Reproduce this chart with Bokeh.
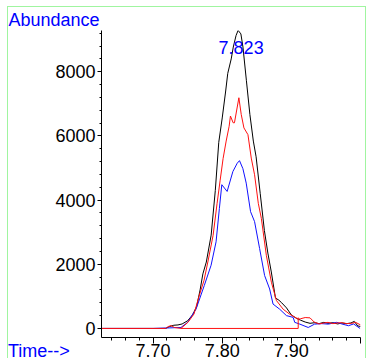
from bokeh.plotting import figure
from bokeh.models import FixedTicker, Label, Range1d, PrintfTickFormatter, Div
from bokeh.layouts import column
from bokeh.embed import file_html
from bokeh.resources import INLINE

# ---- data (retention time in min, abundance) ----
black_t = [7.6254, 7.700, 7.718, 7.724, 7.730, 7.736, 7.742, 7.750, 7.757, 7.763, 7.768,
           7.772, 7.777, 7.784, 7.790, 7.795, 7.800, 7.805, 7.808, 7.813, 7.816, 7.820,
           7.823, 7.827, 7.830, 7.835, 7.840, 7.845, 7.849, 7.855, 7.861, 7.866, 7.871,
           7.877, 7.882, 7.886, 7.893, 7.900, 7.907, 7.913, 7.920, 7.927, 7.934, 7.940,
           7.947, 7.953, 7.960, 7.967, 7.973, 7.980, 7.986, 7.991, 7.996, 8.000]
black_v = [0, 0, 0, 60, 100, 110, 140, 240, 420, 680, 1200,
           1700, 2070, 2910, 4300, 5800, 6560, 7400, 7950, 8400, 8770, 9130,
           9290, 9180, 8770, 7720, 6670, 5840, 5350, 4200, 3050, 2350, 1760,
           950, 880, 800, 640, 420, 320, 260, 200, 160, 180, 150,
           190, 160, 180, 140, 170, 150, 170, 220, 80, 60]

red_t = [7.6254, 7.700, 7.718, 7.722, 7.726, 7.731, 7.7403, 7.7504, 7.7592, 7.7664, 7.7737,
         7.7795, 7.7868, 7.7926, 7.7969, 7.8013, 7.8057, 7.8100, 7.8119, 7.8158, 7.8177,
         7.8241, 7.8275, 7.8314, 7.8372, 7.8420, 7.8468, 7.8522, 7.8566, 7.8638, 7.8711,
         7.8784, 7.8881, 7.8972, 7.9099, 7.913, 7.920, 7.927, 7.933, 7.940, 7.947, 7.953,
         7.960, 7.967, 7.973, 7.980, 7.987, 7.993, 8.000]
red_v = [0, 0, 0, 60, 90, 30, 0, 190, 450, 1000, 1500,
         2100, 2900, 3900, 4600, 5300, 5840, 6300, 6620, 6410, 6410,
         7190, 6670, 6250, 6040, 5310, 4790, 3900, 3430, 2280, 1440,
         870, 600, 450, 290, 300, 340, 330, 200, 140, 170, 190,
         150, 170, 180, 150, 160, 190, 110]

blue_t = [7.6254, 7.700, 7.7403, 7.7500, 7.7621, 7.7741, 7.7839, 7.7911, 7.7959, 7.7994,
          7.8071, 7.8154, 7.8217, 7.8250, 7.8299, 7.8347, 7.8410, 7.8468, 7.8541, 7.8613,
          7.8686, 7.8735, 7.8831, 7.8929, 7.9026, 7.9049, 7.9122, 7.9244, 7.9336, 7.9440,
          7.9535, 7.9656, 7.9730, 7.9826, 7.9900, 7.9994]
blue_v = [0, 0, 30, 190, 600, 1340, 1970, 2700, 3740, 4480,
          4270, 4890, 5150, 5230, 4980, 4530, 3640, 3330, 2490, 1650,
          1230, 760, 600, 400, 345, 190, 135, 30, 135, 150,
          135, 190, 140, 85, 140, 0]

# integration baseline (start, end, end-height)
base_t = [7.7403, 7.9099, 7.9099]
base_v = [0, 0, 340]

peak_rt = 7.823
peak_label = "7.823"
y_title = "Abundance"
x_title = "Time-->"

y_ticks = [0, 2000, 4000, 6000, 8000]
y_minor = [400, 800, 1200, 1600, 2400, 2800, 3200, 3600, 4400, 4800, 5200, 5600,
           6400, 6800, 7200, 7600, 8400, 8800, 9200]
x_ticks = [7.70, 7.80, 7.90, 8.00]
x_minor = [7.64, 7.66, 7.68, 7.72, 7.74, 7.76, 7.78, 7.82, 7.84, 7.86, 7.88, 7.92, 7.94, 7.96, 7.98]

FONT = "Liberation Sans"
GREEN = "#a0f5a0"

p = figure(width=359, height=352, output_backend="svg", toolbar_location=None,
           x_range=Range1d(7.6254, 8.0), y_range=Range1d(-282, 9286),
           min_border_left=93, min_border_right=7, min_border_top=23, min_border_bottom=0,
           styles={"margin-left": "7px", "margin-top": "6px",
                   "border-left": f"1px solid {GREEN}", "border-top": f"1px solid {GREEN}",
                   "border-right": f"1px solid {GREEN}"})
p.outline_line_color = None
p.xgrid.visible = False
p.ygrid.visible = False
p.background_fill_color = "white"
p.border_fill_color = "white"

p.title.text = y_title
p.title.align = "left"
p.title.offset = -93
p.title.standoff = 1
p.title.text_font = FONT
p.title.text_font_size = "18px"
p.title.text_font_style = "normal"
p.title.text_color = "blue"

p.line(black_t, black_v, line_color="black", line_width=1)
p.line(blue_t, blue_v, line_color="#1010ff", line_width=1)
p.line(red_t, red_v, line_color="#ff1010", line_width=1)
p.line(base_t, base_v, line_color="#ff1010", line_width=1)

for ax in (p.xaxis[0], p.yaxis[0]):
    ax.axis_line_color = "black"
    ax.major_tick_line_color = "black"
    ax.minor_tick_line_color = "black"
    ax.major_label_text_font = FONT
    ax.major_label_text_font_size = "18px"
    ax.major_label_text_color = "black"
    ax.major_tick_in = 0
    ax.minor_tick_in = 0

p.yaxis.ticker = FixedTicker(ticks=y_ticks, minor_ticks=y_minor)
p.yaxis.major_tick_out = 4
p.yaxis.minor_tick_out = 2
p.yaxis.major_label_standoff = 2

p.xaxis.ticker = FixedTicker(ticks=x_ticks, minor_ticks=x_minor)
p.xaxis.formatter = PrintfTickFormatter(format="%.2f")
p.xaxis.major_label_overrides = {8.0: ""}
p.xaxis.major_tick_out = 6
p.xaxis.minor_tick_out = 3
p.xaxis.major_label_standoff = 0

p.add_layout(Label(x=peak_rt, y=8750, x_offset=3, text=peak_label,
                   text_font=FONT, text_font_size="18px", text_color="blue",
                   text_baseline="alphabetic", text_align="center"))

# "Time-->" caption in the lower-left corner, overlaid on the figure
cap = Div(text=x_title, render_as_text=True, width=70, height=18, margin=(0, 0, 0, 0),
          styles={"position": "absolute", "left": "8px", "top": "342px", "z-index": "2",
                  "color": "blue", "font-family": FONT, "font-size": "18px",
                  "line-height": "18px", "white-space": "nowrap"})

layout = column(p, cap, spacing=0)

open("out.html", "w").write(file_html(layout, INLINE))
